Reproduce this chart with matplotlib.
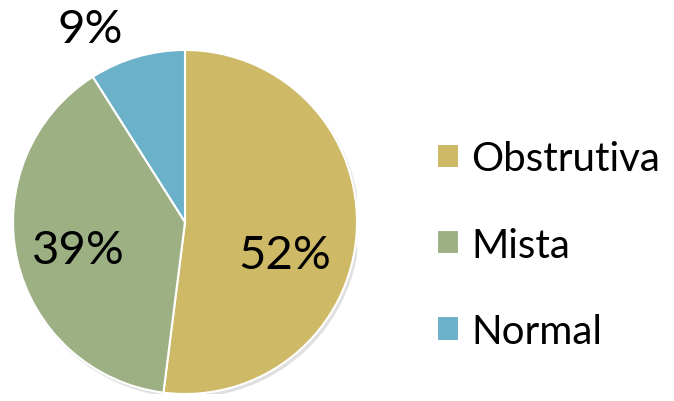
import matplotlib.pyplot as plt
from matplotlib.patches import Circle

labels = ['Obstrutiva', 'Mista', 'Normal']
values = [52, 39, 9]
colors = ['#CEB966', '#9CB084', '#6BB1C9']

plt.rcParams['font.family'] = ['Lato', 'DejaVu Sans']

W, H = 674, 402
fig = plt.figure(figsize=(W / 100, H / 100), dpi=100)

# pie axes: centre (185, 223) px from top-left, radius 172 px
cx, cy, r = 185, 223, 172
ax = fig.add_axes([(cx - r) / W, (H - cy - r) / H, 2 * r / W, 2 * r / H])

# soft drop shadow under the pie
for i, a in enumerate([0.03, 0.04, 0.05]):
    ax.add_patch(Circle((0.01 + 0.003 * i, -0.014 - 0.003 * i), 1.0 + 0.004 * (2 - i),
                        color='black', alpha=a, lw=0, zorder=0))

wedges, _ = ax.pie(values, colors=colors, startangle=90, counterclock=False,
                   radius=1.0, wedgeprops=dict(edgecolor='white', linewidth=1.5))
for w in wedges:
    w.set_zorder(2)

# percentage labels
label_pos = [(0.58, -0.19), (-0.62, -0.16), (-0.55, 1.12)]
for v, (x, y) in zip(values, label_pos):
    ax.text(x, y, f'{v}%', ha='center', va='center', fontsize=34, zorder=3)

ax.set_xlim(-1, 1)
ax.set_ylim(-1, 1)
ax.set_aspect('equal')
ax.axis('off')

fig.legend(wedges, labels, loc='center left', bbox_to_anchor=(421 / W, 1 - 246 / H),
           frameon=False, fontsize=29, handlelength=0.55, handleheight=0.55,
           handletextpad=0.3, labelspacing=1.22, borderaxespad=0)

fig.savefig('out.png', dpi=100)
